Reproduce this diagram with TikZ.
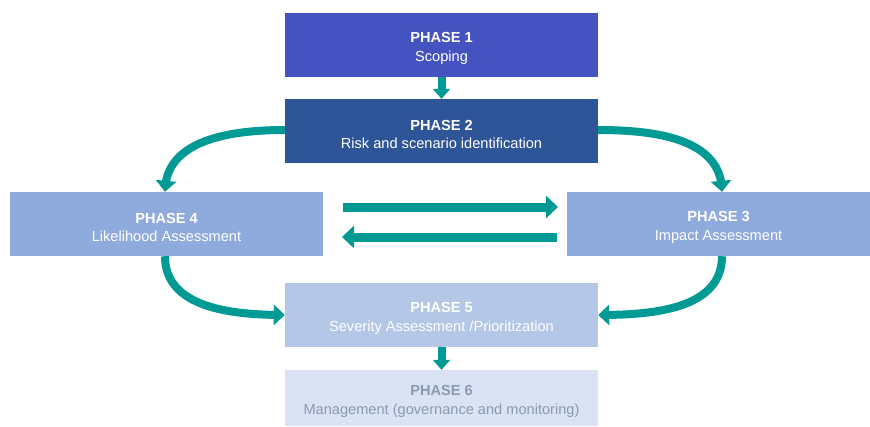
\documentclass[tikz,border=0pt]{standalone}
\usepackage{fontspec}
\setmainfont{Liberation Sans}
\usetikzlibrary{arrows.meta,bending}
\definecolor{cA}{HTML}{4453BF}
\definecolor{cB}{HTML}{2E5597}
\definecolor{cC}{HTML}{8FAADC}
\definecolor{cD}{HTML}{B4C7E7}
\definecolor{cE}{HTML}{DAE3F3}
\definecolor{teal2}{HTML}{009A94}
\definecolor{gtxt}{HTML}{8A9AB2}
\newcommand{\ph}[2]{\rule{0pt}{17pt}\textbf{#1}\\#2}
\begin{document}
\begin{tikzpicture}[x=1pt,y=-1pt,
  phasebox/.style={minimum width=313pt,minimum height=64pt,inner sep=0pt,align=center,text=white,font=\fontsize{14.6}{18.5}\selectfont},
  flow/.style={teal2,line width=8pt,-{Triangle[width=20pt,length=11pt,flex]}},
  bigflow/.style={teal2,line width=9pt,-{Triangle[width=22pt,length=12pt]}},
  small/.style={teal2,line width=8pt,-{Triangle[width=17pt,length=10pt]}}]
\useasboundingbox (0,0) rectangle (870,426);
\node[phasebox,fill=cA] (p1) at (441.5,45) {\ph{PHASE 1}{Scoping}};
\node[phasebox,fill=cB] (p2) at (441.5,131) {\ph{PHASE 2}{Risk and scenario identification}};
\node[phasebox,fill=cC] (p4) at (166.5,224) {\ph{PHASE 4}{Likelihood Assessment}};
\node[phasebox,fill=cC,minimum width=303pt] (p3) at (718.5,224) {\ph{PHASE 3}{Impact Assessment}};
\node[phasebox,fill=cD] (p5) at (441.5,315) {\ph{PHASE 5}{Severity Assessment /Prioritization}};
\node[phasebox,fill=cE,text=gtxt,minimum height=56pt] (p6) at (441.5,398) {\ph{PHASE 6}{Management (governance and monitoring)}};
\draw[small] (p1.south) -- (p2.north);
\draw[small] (p5.south) -- (p6.north);
\coordinate (h1s) at (343,207);
\coordinate (h1e) at (558,207);
\coordinate (h2s) at (557,237);
\coordinate (h2e) at (342,237);
\draw[bigflow] (h1s) -- (h1e);
\draw[bigflow] (h2s) -- (h2e);
\draw[flow] (p2.west) ++(0,-1) to[out=180,in=90] ([xshift=-1.5pt]p4.north);
\draw[flow] (p2.east) ++(0,-1) to[out=0,in=90] ([xshift=3.5pt]p3.north);
\draw[flow] ([xshift=-1.5pt]p4.south) to[out=270,in=180] (p5.west);
\draw[flow] ([xshift=3.5pt]p3.south) to[out=270,in=0] (p5.east);
\end{tikzpicture}
\end{document}
